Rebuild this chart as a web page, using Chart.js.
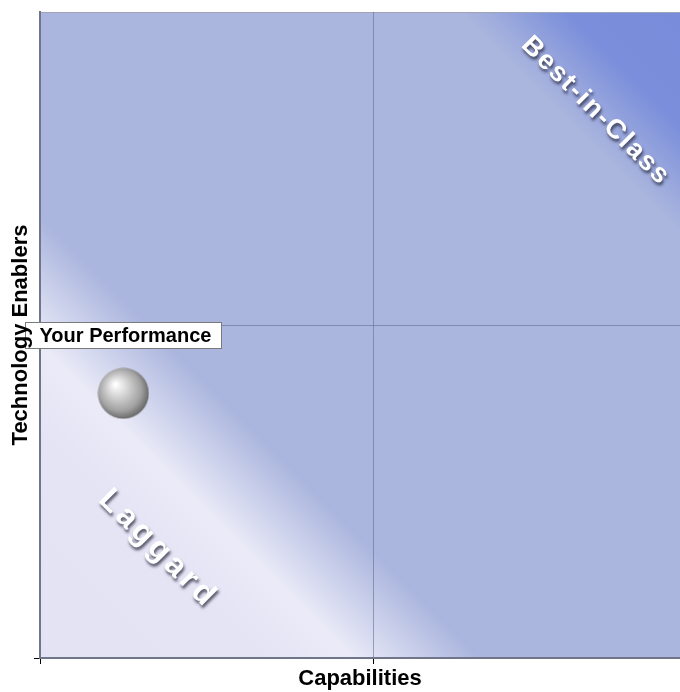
<!DOCTYPE html>
<html lang="en">
<head>
    <meta charset="UTF-8">
    <script src="https://cdn.jsdelivr.net/npm/chart.js"></script>
    <title>Capabilities vs Technology Enablers</title>
    <style>
        body {
            margin: 0;
            background: #fff;
        }
        canvas {
            display: block;
        }
    </style>
</head>
<body>

<canvas id="quadrantChart" width="680" height="692"></canvas>

<script>
    // data
    const pointLabels = ['Your Performance'];
    const capabilities = [0.25];        // x
    const techEnablers = [0.795];       // y
    const xTickValues = [0, 1];
    const yTickValues = [0, 1];
    const xTitle = 'Capabilities';
    const yTitle = 'Technology Enablers';

    // zone captions, placed in data units
    const zoneNames = ['Best-in-Class', 'Laggard'];
    const zoneX = [1.667, 0.354];
    const zoneY = [1.643, 0.327];

    const FONT = '"Liberation Sans", Arial, sans-serif';

    // grey ball used as the point marker
    function makeBall(r) {
        const c = document.createElement('canvas');
        c.width = c.height = r * 2;
        const g = c.getContext('2d');
        const grad = g.createRadialGradient(r - 8, r - 9, 1, r - 2, r - 2, r + 2);
        grad.addColorStop(0, '#ffffff');
        grad.addColorStop(0.3, '#dadada');
        grad.addColorStop(0.75, '#a2a2a2');
        grad.addColorStop(1, '#686868');
        g.fillStyle = grad;
        g.beginPath();
        g.arc(r, r, r - 0.5, 0, Math.PI * 2);
        g.fill();
        return c;
    }

    const backgroundPlugin = {
        id: 'zoneBackground',
        beforeDraw(chart) {
            const { ctx, chartArea: a, scales } = chart;
            const x0 = scales.x.getPixelForValue(0);
            const y0 = scales.y.getPixelForValue(0);
            const x2 = scales.x.getPixelForValue(2);
            const y2 = scales.y.getPixelForValue(2);
            const grad = ctx.createLinearGradient(x0, y0, x2, y2);
            grad.addColorStop(0, '#e3e3f4');
            grad.addColorStop(0.17, '#e4e4f5');
            grad.addColorStop(0.235, '#ebebf8');
            grad.addColorStop(0.33, '#abb6de');
            grad.addColorStop(0.80, '#abb6de');
            grad.addColorStop(0.88, '#7a8edb');
            grad.addColorStop(1, '#778bdb');
            ctx.save();
            ctx.fillStyle = grad;
            ctx.fillRect(a.left, a.top, a.right - a.left, a.bottom - a.top);
            // top frame line
            ctx.strokeStyle = '#9ea3b8';
            ctx.lineWidth = 1;
            ctx.beginPath();
            ctx.moveTo(a.left, a.top + 0.5);
            ctx.lineTo(a.right, a.top + 0.5);
            ctx.stroke();
            ctx.restore();
        }
    };

    const labelsPlugin = {
        id: 'zoneLabels',
        afterDatasetsDraw(chart) {
            const { ctx, scales, chartArea } = chart;
            ctx.save();

            // zone captions
            zoneNames.forEach((name, i) => {
                const px = scales.x.getPixelForValue(zoneX[i]);
                const py = scales.y.getPixelForValue(zoneY[i]);
                ctx.save();
                ctx.translate(px, py);
                ctx.rotate(Math.PI / 4);
                ctx.font = 'bold ' + (i === 0 ? 27 : 32) + 'px ' + FONT;
                ctx.letterSpacing = (i === 0 ? 2 : 4) + 'px';
                ctx.textAlign = 'center';
                ctx.textBaseline = 'middle';
                ctx.shadowColor = 'rgba(40,40,60,0.75)';
                ctx.shadowOffsetX = 1;
                ctx.shadowOffsetY = 3;
                ctx.shadowBlur = 3;
                ctx.fillStyle = '#ffffff';
                ctx.fillText(name, 0, 0);
                ctx.restore();
            });

            // point label box
            const meta = chart.getDatasetMeta(0);
            meta.data.forEach((pt, i) => {
                ctx.font = 'bold 20px ' + FONT;
                const w = Math.round(ctx.measureText(pointLabels[i]).width + 24);
                const h = 26;
                const bx = Math.round(pt.x - w / 2) + 0.5;
                const by = Math.round(pt.y - 71) + 0.5;
                ctx.fillStyle = '#ffffff';
                ctx.fillRect(bx, by, w, h);
                ctx.strokeStyle = '#7a7a7a';
                ctx.lineWidth = 1;
                ctx.strokeRect(bx, by, w, h);
                ctx.fillStyle = '#000000';
                ctx.textAlign = 'left';
                ctx.textBaseline = 'middle';
                ctx.fillText(pointLabels[i], bx + 14, by + h / 2 + 1);
            });

            // y axis title sits on top of the label box
            ctx.translate(21, (chartArea.top + chartArea.bottom) / 2);
            ctx.rotate(-Math.PI / 2);
            ctx.font = 'bold 22px ' + FONT;
            ctx.fillStyle = '#000';
            ctx.textAlign = 'center';
            ctx.textBaseline = 'middle';
            ctx.fillText(yTitle, 0, 0);
            ctx.restore();
        }
    };

    const ctx = document.getElementById('quadrantChart').getContext('2d');
    const quadrantChart = new Chart(ctx, {
        type: 'scatter',
        data: {
            datasets: [{
                label: pointLabels[0],
                data: capabilities.map((v, i) => ({ x: v, y: techEnablers[i] })),
                pointStyle: makeBall(26),
                pointRadius: 26
            }]
        },
        options: {
            responsive: false,
            animation: false,
            layout: {
                autoPadding: false,
                padding: { top: 12, right: 0, left: 0, bottom: 0 }
            },
            plugins: {
                legend: { display: false },
                tooltip: { enabled: false }
            },
            scales: {
                x: {
                    type: 'linear',
                    min: 0,
                    max: 1.92,
                    afterBuildTicks: s => { s.ticks = xTickValues.map(v => ({ value: v })); },
                    afterFit: s => { s.height = 34; },
                    ticks: { display: false },
                    grid: {
                        color: c => c.tick && c.tick.value === 0 ? 'rgba(0,0,0,0)' : 'rgba(95,104,140,0.55)',
                        tickColor: '#000',
                        tickLength: 6
                    },
                    border: { color: '#70758a', width: 2 },
                    title: {
                        display: true,
                        text: xTitle,
                        color: '#000',
                        font: { family: FONT, size: 22, weight: 'bold' },
                        padding: { top: 0, bottom: 0 }
                    }
                },
                y: {
                    type: 'linear',
                    min: 0,
                    max: 1.94,
                    afterBuildTicks: s => { s.ticks = yTickValues.map(v => ({ value: v })); },
                    afterFit: s => { s.width = 40; },
                    ticks: { display: false },
                    grid: {
                        color: c => c.tick && c.tick.value === 0 ? 'rgba(0,0,0,0)' : 'rgba(95,104,140,0.55)',
                        tickColor: '#000',
                        tickLength: 6
                    },
                    border: { color: '#70758a', width: 2 },
                    title: { display: false, text: yTitle }
                }
            }
        },
        plugins: [backgroundPlugin, labelsPlugin]
    });
</script>

</body>
</html>
